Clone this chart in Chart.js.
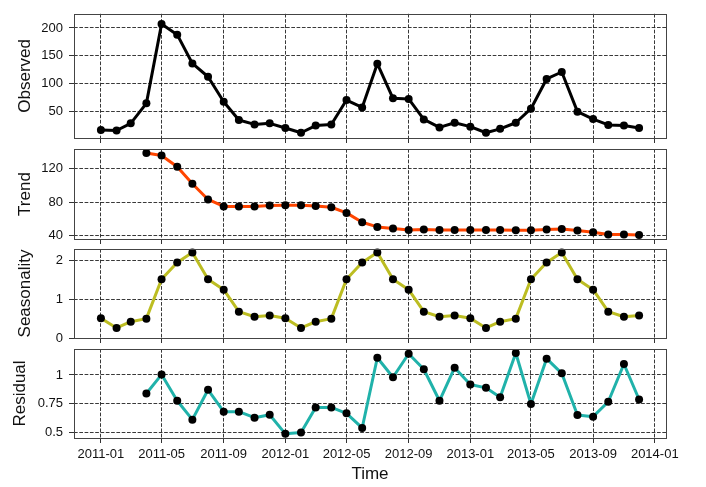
<!DOCTYPE html>
<html><head><meta charset="utf-8">
<script src="https://cdn.jsdelivr.net/npm/chart.js@4/dist/chart.umd.min.js"></script>
<style>
html,body{margin:0;padding:0;background:#fff;}
#wrap{position:relative;width:706px;height:487px;overflow:hidden;background:#fff;}
#wrap canvas{position:absolute;left:0;top:0;}
</style>
</head><body>
<div id="wrap">
<canvas id="c0" width="706" height="487"></canvas>
<canvas id="c1" width="706" height="487"></canvas>
<canvas id="c2" width="706" height="487"></canvas>
<canvas id="c3" width="706" height="487"></canvas>
</div>
<script>
// ---- data ----
const months = ['2011-01','2011-02','2011-03','2011-04','2011-05','2011-06','2011-07','2011-08','2011-09','2011-10','2011-11','2011-12',
                '2012-01','2012-02','2012-03','2012-04','2012-05','2012-06','2012-07','2012-08','2012-09','2012-10','2012-11','2012-12',
                '2013-01','2013-02','2013-03','2013-04','2013-05','2013-06','2013-07','2013-08','2013-09','2013-10','2013-11','2013-12'];
const observed = [16,15,28,64,207,188,136,112,67,34,26,28,
                  19.5,11,24,26,70,56.7,135.6,73,72,35,20.6,29,
                  22,11,18,29,54.4,108,120.6,49,35.6,25,24,19.5];
const trend = [null,null,null,138.2,135.4,122,101.8,83.2,74.9,74.9,74.9,76,
               76.4,76.4,75.6,74,67.3,56.2,50.7,48.7,47.1,47.5,47.1,47.1,
               47.1,47.1,47.1,46.7,46.7,47.5,48.3,46.3,44.4,41.6,41.6,41.2];
const seasonality = [0.51,0.26,0.42,0.50,1.52,1.95,2.21,1.52,1.25,0.68,0.55,0.58,
                     0.51,0.26,0.42,0.50,1.52,1.95,2.21,1.52,1.25,0.68,0.55,0.58,
                     0.51,0.26,0.42,0.50,1.52,1.95,2.21,1.52,1.25,0.68,0.55,0.58];
const residual = [null,null,null,0.839,1.003,0.776,0.612,0.871,0.681,0.681,0.629,0.655,
                  0.489,0.5,0.718,0.718,0.667,0.540,1.149,0.980,1.184,1.049,0.776,1.063,
                  0.917,0.888,0.807,1.190,0.747,1.141,1.014,0.652,0.638,0.767,1.095,0.787];
const xTickLabels = ['2011-01','2011-05','2011-09','2012-01','2012-05','2012-09','2013-01','2013-05','2013-09','2014-01'];
const yTicksObserved = [50,100,150,200];
const yTicksTrend = [40,80,120];
const yTicksSeasonality = [0,1,2];
const yTicksResidual = [0.5,0.75,1];
const panelNames = ['Observed','Trend','Seasonality','Residual'];
const xTitle = 'Time';

// ---- helpers ----
function toTs(s){const p=s.split('-').map(Number);return Date.UTC(p[0],p[1]-1,1);}
function fmt(v){const d=new Date(v);const m=d.getUTCMonth()+1;return d.getUTCFullYear()+'-'+(m<10?'0':'')+m;}
const xs = months.map(toTs);
const xTickVals = xTickLabels.map(toTs);
const span = xs[xs.length-1]-xs[0];
const xMin = xs[0]-0.05*span, xMax = xs[xs.length-1]+0.05*span;

const W = 706, H = 487, LEFT = 74, RIGHT = 666;
const FONT = "'Liberation Sans', Arial, sans-serif";

const panels = [
  {series:observed, ticks:yTicksObserved, color:'#000000', min:1.5, max:225.6, top:4, bottom:138, tpad:15.5},
  {series:trend, ticks:yTicksTrend, color:'#ff4500', min:36.35, max:143.05, top:149, bottom:239, tpad:15.5},
  {series:seasonality, ticks:yTicksSeasonality, color:'#bcbd22', min:0, max:2.3, top:249, bottom:338, tpad:15.5},
  {series:residual, ticks:yTicksResidual, color:'#20b2aa', min:0.453, max:1.225, top:349, bottom:438, tpad:10.5}
];

const framePlugin = {
  id:'frame',
  afterDraw(chart){
    const {ctx, chartArea:a} = chart;
    ctx.save();
    ctx.strokeStyle = '#444';
    ctx.lineWidth = 1;
    ctx.strokeRect(Math.round(a.left)+0.5, Math.round(a.top)+0.5, Math.round(a.right-a.left), Math.round(a.bottom-a.top));
    ctx.restore();
  }
};

const gridOpts = {color:'#222', lineWidth:0.9, drawTicks:true, tickLength:5,
                  tickColor:'#333', tickWidth:1, tickBorderDash:[]};
const borderOpts = {display:false, dash:[3.7,1.6]};

panels.forEach((p, i) => {
  const isLast = i === panels.length-1;
  const xh = isLast ? (H - p.bottom) : 5;
  new Chart(document.getElementById('c'+i), {
    type:'line',
    data:{datasets:[{
      data: xs.map((x,k)=>({x:x, y:p.series[k]})),
      borderColor:p.color, borderWidth:3, borderJoinStyle:'round', borderCapStyle:'round',
      pointRadius:4, pointHoverRadius:4, pointBackgroundColor:'#000', pointBorderWidth:0,
      tension:0, spanGaps:false, clip:false
    }]},
    options:{
      responsive:false, animation:false, events:[],
      layout:{padding:{top:p.top, bottom:H - p.bottom - xh, left:0, right:W-RIGHT}},
      plugins:{legend:{display:false}, tooltip:{enabled:false}},
      scales:{
        x:{type:'linear', min:xMin, max:xMax,
           afterBuildTicks:s=>{s.ticks = xTickVals.map(v=>({value:v}));},
           afterFit:s=>{s.height = xh;},
           grid:gridOpts, border:borderOpts,
           ticks:{display:isLast, autoSkip:false, maxRotation:0, padding:4, color:'#111',
                  font:{family:FONT, size:13}, callback:v=>fmt(v)},
           title:{display:isLast, text:xTitle, color:'#111', font:{family:FONT, size:17}, padding:{top:0, bottom:2}}
        },
        y:{min:p.min, max:p.max,
           afterBuildTicks:s=>{s.ticks = p.ticks.map(v=>({value:v}));},
           afterFit:s=>{s.width = LEFT;},
           grid:gridOpts, border:borderOpts,
           ticks:{padding:6, color:'#111', font:{family:FONT, size:13}, callback:v=>String(v)},
           title:{display:true, text:panelNames[i], color:'#111', font:{family:FONT, size:17}, padding:{top:p.tpad, bottom:0}}
        }
      }
    },
    plugins:[framePlugin]
  });
});
</script>
</body></html>
